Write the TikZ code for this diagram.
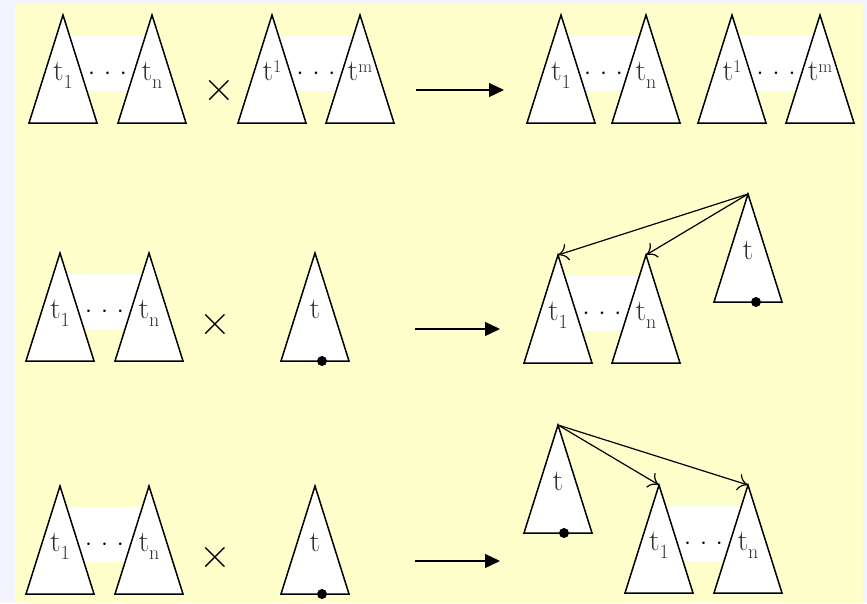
\documentclass[tikz,border=0pt]{standalone}
\usepackage{fontspec}
\usetikzlibrary{arrows.meta}
\definecolor{outerbg}{HTML}{F4F4FF}
\definecolor{innerbg}{HTML}{FFFFCC}
\definecolor{labelgrey}{HTML}{333333}
\newcommand\lsub[1]{\raisebox{-8pt}{\fontsize{20}{20}\selectfont #1}}
\newcommand\lsup[1]{\raisebox{8pt}{\fontsize{18}{18}\selectfont #1}}
\newcommand\onedot{\makebox[16pt]{$\cdot$}}
\tikzset{
  treeline/.style={draw=black, fill=white, line width=1.5pt, line join=miter},
  treelabel/.style={text=labelgrey, font=\fontsize{30}{32}\selectfont, anchor=base, inner sep=0pt},
  dotrow/.style={font=\fontsize{36}{36}\selectfont, anchor=base, inner sep=0pt},
  timesign/.style={font=\fontsize{44}{44}\selectfont, anchor=base, inner sep=0pt},
  bigarrow/.style={line width=1.3pt, -{Triangle[length=15pt,width=14pt]}},
  ptr/.style={line width=1.2pt, -{To[length=10pt,width=17pt]}},
  leafdot/.style={circle, fill=black, inner sep=0pt, minimum size=10pt},
}
\newcommand\mktree[4]{%
  \coordinate (#1) at ({#2},{#3});
  \draw[treeline] (#1) -- ++(-34,108) -- ++(68,0) -- cycle;
  \node[treelabel] (#1-l) at ({#2},{#3+65}) {#4};}
\newcommand\mkband[3]{\fill[white] ({#1},{#3+21}) rectangle ({#2},{#3+76});}
\newcommand\mkdots[4]{\node[dotrow] (#1) at ({(#2+#3)/2},{#4+64}) {\onedot\onedot\onedot};}
\begin{document}
\begin{tikzpicture}[x=1pt,y=-1pt]
\useasboundingbox (0,0) rectangle (867,603);
\fill[outerbg] (0,0) rectangle (867,603);
\fill[innerbg] (15,4) rectangle (863,603);

% ---------- row 1 ----------
\mkband{63}{152}{15}
\mkband{272}{360}{15}
\mkband{561}{646}{15}
\mkband{732}{820}{15}
\mktree{ra1}{63}{15}{t\lsub{1}}
\mktree{ra2}{152}{15}{t\lsub{n}}
\mktree{rb1}{272}{15}{t\lsup{1}}
\mktree{rb2}{360}{15}{t\lsup{m}}
\mktree{sa1}{561}{15}{t\lsub{1}}
\mktree{sa2}{646}{15}{t\lsub{n}}
\mktree{sb1}{732}{15}{t\lsup{1}}
\mktree{sb2}{820}{15}{t\lsup{m}}
\mkdots{d1}{63}{152}{15}
\mkdots{d2}{272}{360}{15}
\mkdots{d3}{561}{646}{15}
\mkdots{d4}{732}{820}{15}
\node[timesign] (x1) at (219,101) {×};
\coordinate (f1s) at (416,90);
\coordinate (f1e) at (504,90);
\draw[bigarrow] (f1s) -- (f1e);

% ---------- row 2 ----------
\mkband{60}{149}{253}
\mktree{pa1}{60}{253}{t\lsub{1}}
\mktree{pa2}{149}{253}{t\lsub{n}}
\mkdots{d5}{60}{149}{253}
\mktree{pt}{315}{253}{t}
\node[leafdot] (pt-d) at (322,361) {};
\node[timesign] (x2) at (215,335) {×};
\coordinate (f2s) at (415,329);
\coordinate (f2e) at (500,329);
\draw[bigarrow] (f2s) -- (f2e);

\mkband{558}{646}{255}
\mktree{qa1}{558}{255}{t\lsub{1}}
\mktree{qa2}{646}{255}{t\lsub{n}}
\mkdots{d6}{558}{646}{255}
\mktree{qt}{748}{194}{t}
\node[leafdot] (qt-d) at (756,302) {};
\draw[ptr] (qt) -- (qa1);
\draw[ptr] (qt) -- (qa2);

% ---------- row 3 ----------
\mkband{60}{149}{486}
\mktree{ua1}{60}{486}{t\lsub{1}}
\mktree{ua2}{149}{486}{t\lsub{n}}
\mkdots{d7}{60}{149}{486}
\mktree{ut}{315}{486}{t}
\node[leafdot] (ut-d) at (322,594) {};
\node[timesign] (x3) at (215,568) {×};
\coordinate (f3s) at (415,561);
\coordinate (f3e) at (500,561);
\draw[bigarrow] (f3s) -- (f3e);

\mktree{vt}{558}{425}{t}
\node[leafdot] (vt-d) at (564,533) {};
\mkband{659}{748}{485}
\mktree{va1}{659}{485}{t\lsub{1}}
\mktree{va2}{748}{485}{t\lsub{n}}
\mkdots{d8}{659}{748}{485}
\draw[ptr] (vt) -- (va1);
\draw[ptr] (vt) -- (va2);
\end{tikzpicture}
\end{document}
